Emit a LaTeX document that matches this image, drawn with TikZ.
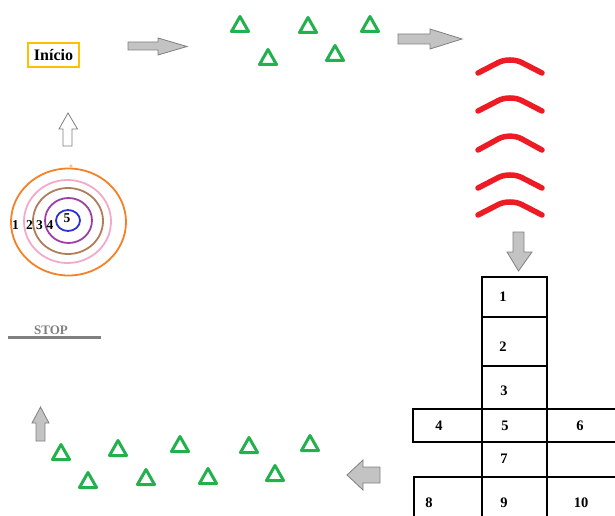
\documentclass[tikz,border=0pt]{standalone}
\usepackage{fontspec}
\setmainfont{Liberation Serif}
\definecolor{conegreen}{HTML}{22B14C}
\definecolor{chevred}{HTML}{ED1C24}
\definecolor{arrowfill}{HTML}{C3C3C3}
\definecolor{arrowline}{HTML}{7F7F7F}
\definecolor{startgold}{HTML}{FFC000}
\definecolor{ringorange}{HTML}{F58025}
\definecolor{ringpink}{HTML}{F5A9C9}
\definecolor{ringbrown}{HTML}{B07D5A}
\definecolor{ringpurple}{HTML}{9E3FA6}
\definecolor{ringblue}{HTML}{2A35CF}
\definecolor{stopgray}{HTML}{808080}
\tikzset{
  cone/.style={draw=conegreen, line width=3pt, line join=round},
  chevron/.style={draw=chevred, line width=5.5pt, line cap=round, rounded corners=13pt},
  bigarrow/.style={fill=arrowfill, draw=arrowline, line width=0.8pt, line join=miter},
  hollowarrow/.style={fill=white, draw=arrowline, line width=0.8pt},
  ring/.style={line width=1.8pt},
  cell/.style={draw=black, line width=1.5pt},
  num/.style={font=\fontsize{14.5}{16}\selectfont\bfseries, inner sep=0pt},
  ringnum/.style={font=\fontsize{13.5}{15}\selectfont\bfseries, inner sep=0pt},
}
% a training cone centred at (#1,#2)
\newcommand\drawcone[2]{\draw[cone] (#1,#2-7.5) -- (#1+8.5,#2+7.5) -- (#1-8.5,#2+7.5) -- cycle;}
% a chevron with its peak at height #1 and its ends at height #2
\newcommand\drawchevron[2]{\draw[chevron] (478,#2) -- (510,#1-3) -- (542,#2);}
\begin{document}
\begin{tikzpicture}[x=1pt, y=-1pt]
\useasboundingbox (0,0) rectangle (615,516);
\clip (0,0) rectangle (615,516);

% start label
\node[draw=startgold, line width=2.5pt, fill=white, minimum width=51pt, minimum height=24pt,
      inner sep=0pt, font=\fontsize{16}{18}\selectfont\bfseries] (start) at (53.5,55) {Início};

% arrow to the first cones
\draw[bigarrow] (128,42) -- (158,42) -- (158,38) -- (187,46.5) -- (158,55) -- (158,50) -- (128,50) -- cycle;

% upper cones
\drawcone{240}{24}
\drawcone{308}{25}
\drawcone{370}{24}
\drawcone{268}{57}
\drawcone{335}{53}

% arrow to the hurdles
\draw[bigarrow] (398,34) -- (430,34) -- (430,29) -- (462,39) -- (430,49) -- (430,44) -- (398,44) -- cycle;

% hurdles
\drawchevron{59.5}{73}
\drawchevron{97.5}{111}
\drawchevron{135.5}{150}
\drawchevron{174.5}{188}
\drawchevron{201.5}{215}

% arrow down to the hopscotch
\draw[bigarrow] (513,232) -- (524,232) -- (524,252) -- (532,252) -- (518.5,271) -- (507,252) -- (513,252) -- cycle;

% hopscotch grid
\draw[cell] (482,277) rectangle (547,409);
\draw[cell] (482,317) -- (547,317);
\draw[cell] (482,366) -- (547,366);
\draw[cell] (413,409) rectangle (620,442);
\draw[cell] (482,409) -- (482,516) (547,409) -- (547,516);
\draw[cell] (414,520) -- (414,477) -- (620,477);
\node[num] (h1) at (503,297) {1};
\node[num] (h2) at (503,347) {2};
\node[num] (h3) at (504,391) {3};
\node[num] (h4) at (439,426) {4};
\node[num] (h5) at (505,426) {5};
\node[num] (h6) at (580,426) {6};
\node[num] (h7) at (504,459) {7};
\node[num] (h8) at (429,503) {8};
\node[num] (h9) at (504,503) {9};
\node[num] (h10) at (581,503) {10};

% arrow back to the lower cones
\draw[bigarrow] (380,467) -- (363,467) -- (363,460) -- (347,475) -- (363,490) -- (363,483) -- (380,483) -- cycle;

% lower cones
\drawcone{61}{452}
\drawcone{88}{480}
\drawcone{118}{448}
\drawcone{146}{477}
\drawcone{180}{444}
\drawcone{208}{476}
\drawcone{249}{445}
\drawcone{275}{473}
\drawcone{310}{443}

% arrow up to the stop line
\draw[bigarrow] (36,441) -- (36,423) -- (32,423) -- (40.5,407) -- (49,423) -- (45,423) -- (45,441) -- cycle;

% stop line
\node[font=\fontsize{13}{15}\selectfont\bfseries, text=stopgray, inner sep=0pt] (stop) at (51,330) {STOP};
\draw[stopgray, line width=3pt] (8,337) -- (101,337);

% target
\draw[ring, ringorange] (68.5,222) ellipse (57.5pt and 53.5pt);
\draw[ring, ringpink] (67.5,221.5) ellipse (43.5pt and 41.5pt);
\draw[ring, ringbrown] (68,221) ellipse (35pt and 33pt);
\draw[ring, ringpurple] (68.5,220.5) ellipse (23.5pt and 22.5pt);
\draw[ring, ringblue] (68,220.5) ellipse (12pt and 10.5pt);
\draw[ringorange!70, line width=0.6pt] (71,166) circle (1.2pt);
\node[ringnum] (t1) at (15.5,225) {1};
\node[ringnum] (t2) at (29.5,225) {2};
\node[ringnum] (t3) at (39.5,225) {3};
\node[ringnum] (t4) at (50,225) {4};
\node[ringnum] (t5) at (67,218) {5};

% arrow up to the start
\draw[hollowarrow] (63,146) -- (63,129) -- (59,129) -- (68,113) -- (77.5,129) -- (72,129) -- (72,146) -- cycle;
\end{tikzpicture}
\end{document}
